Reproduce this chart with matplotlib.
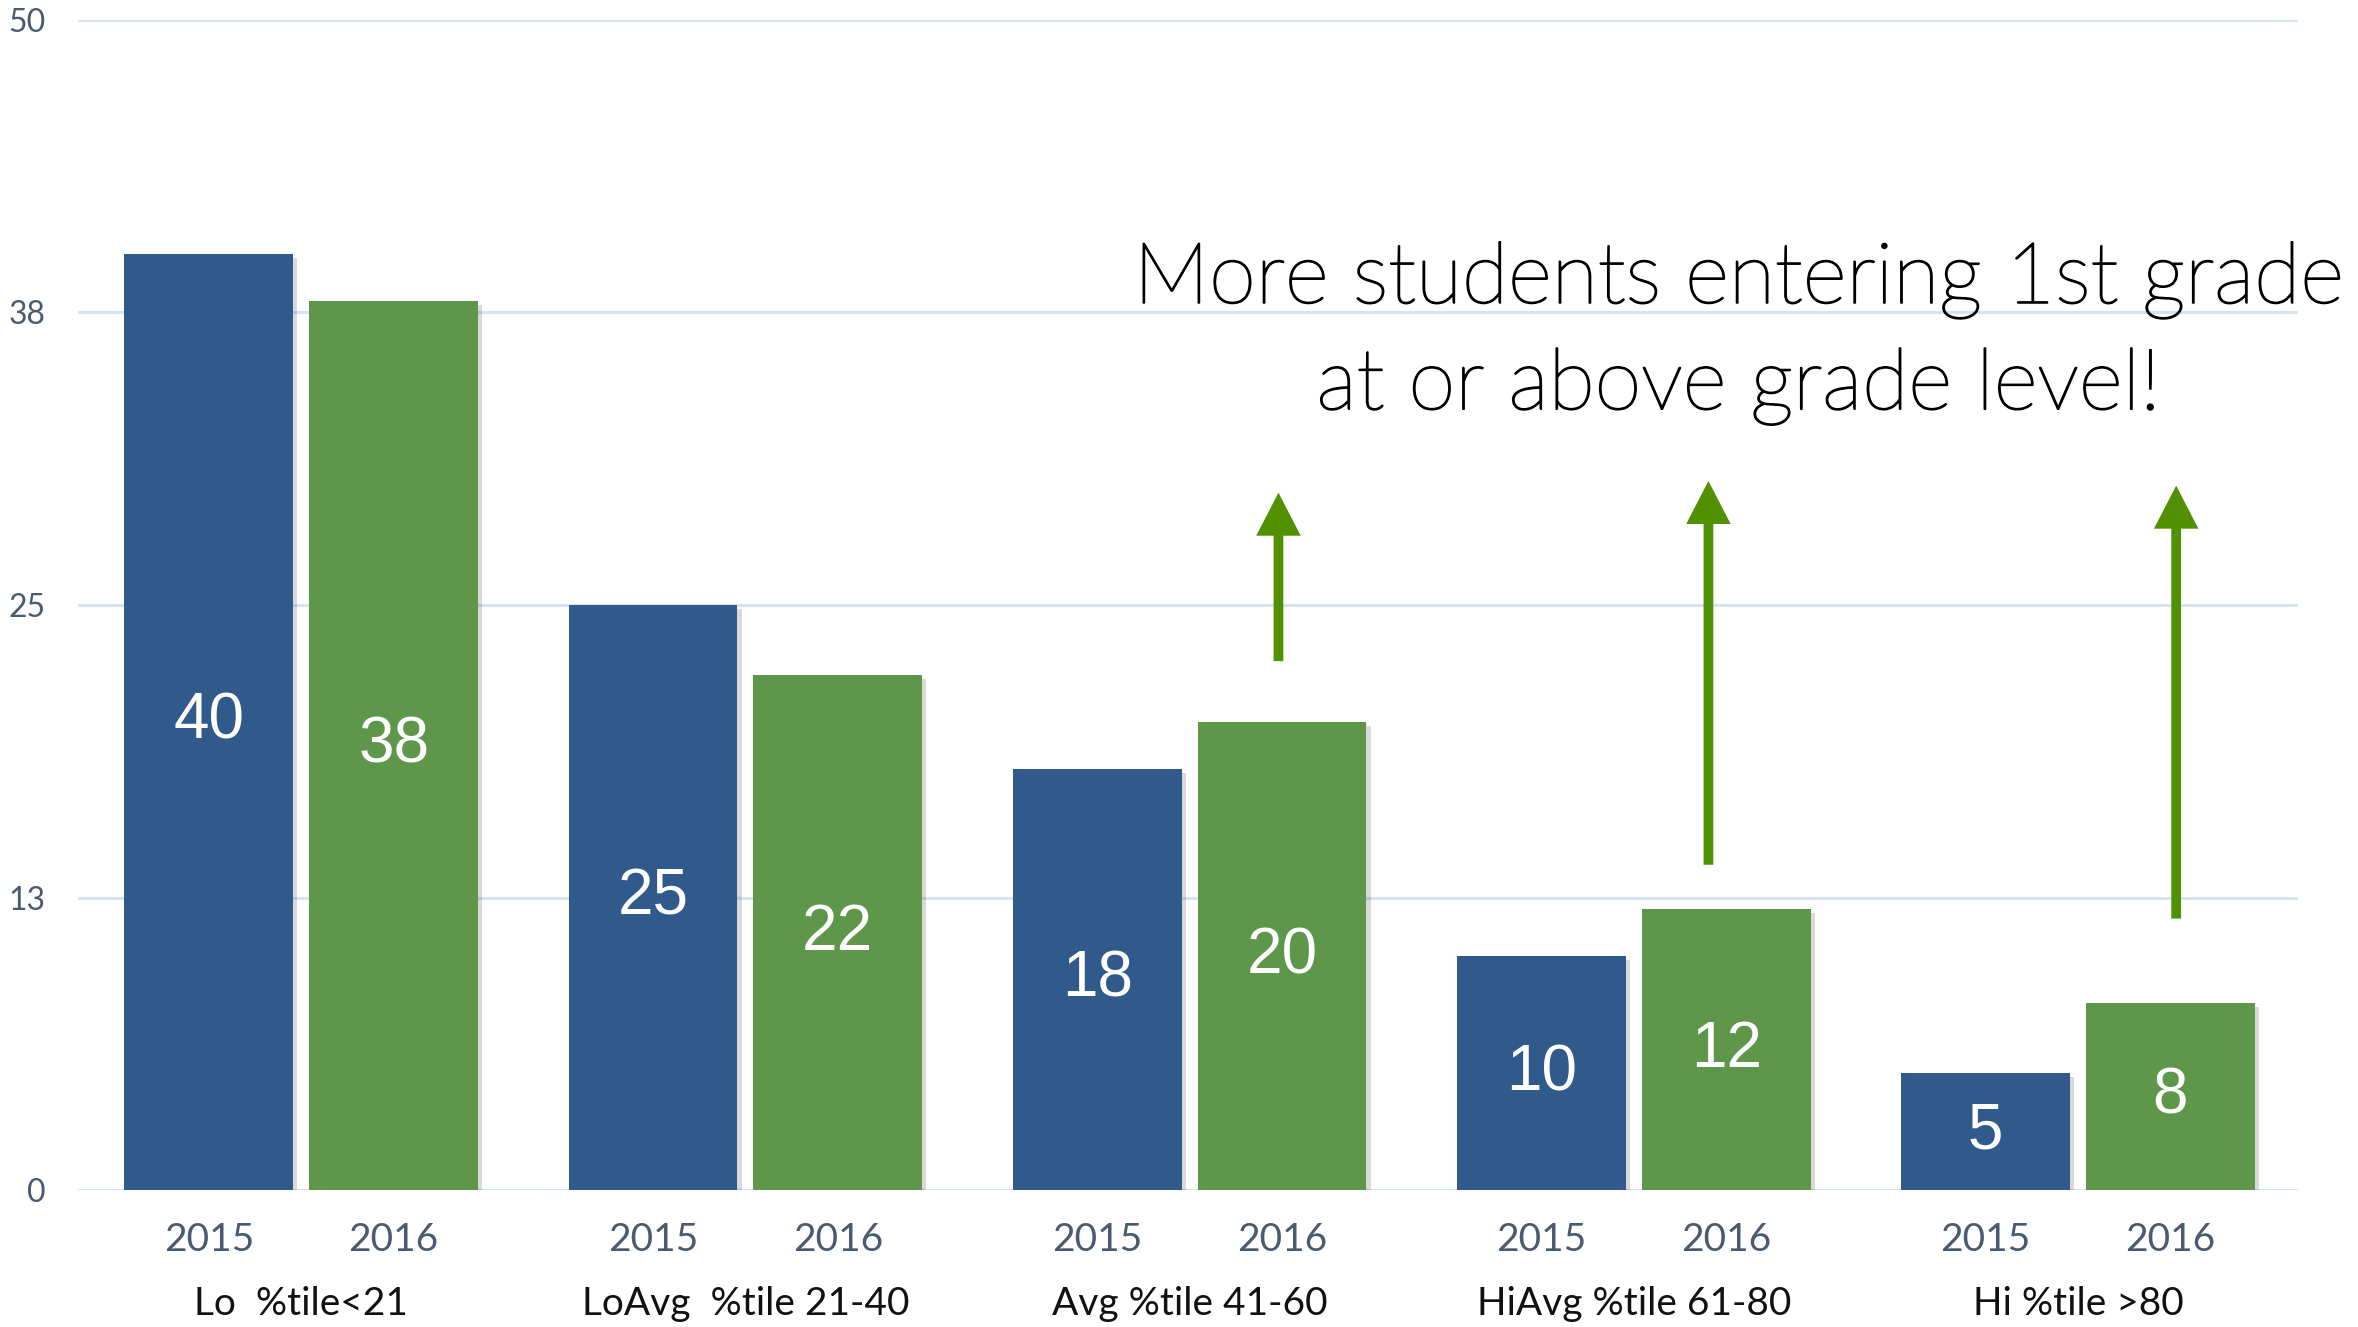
"""Bar chart: reading percentile groups, 2015 vs 2016."""

import matplotlib.pyplot as plt
import matplotlib.patheffects as pe
from matplotlib.patches import FancyArrowPatch
import numpy as np

categories = ["Lo  %tile<21", "LoAvg  %tile 21-40", "Avg %tile 41-60",
              "HiAvg %tile 61-80", "Hi %tile >80"]
years = ["2015", "2016"]
values_2015 = [40, 25, 18, 10, 5]
values_2016 = [38, 22, 20, 12, 8]
y_ticks = [0, 12.5, 25, 37.5, 50]
y_tick_labels = ["0", "13", "25", "38", "50"]

# arrows above the 2016 bars of the last three groups
arrow_x = [2.2, 3.168, 4.221]
arrow_tail = [22.6, 13.9, 11.6]
arrow_tip = [29.8, 30.3, 30.1]

note = "More students entering 1st grade\nat or above grade level!"

BLUE = "#2f5a8b"
GREEN = "#5e9749"
ARROW = "#519000"
GRID = "#d7e3f1"
TICK = "#4a5a70"

fig = plt.figure(figsize=(23.58, 13.27), dpi=100)
ax = fig.add_axes([0.033, 0.1032, 0.9415, 0.8818])

x = np.arange(len(categories))
width = 0.38
offset = 0.208
shadow = [pe.SimplePatchShadow(offset=(3, -3), alpha=0.15, shadow_rgbFace="k"), pe.Normal()]

bars_a = ax.bar(x - offset, values_2015, width, color=BLUE, zorder=3)
bars_b = ax.bar(x + offset, values_2016, width, color=GREEN, zorder=3)
for b in list(bars_a) + list(bars_b):
    b.set_path_effects(shadow)

for bars, vals in ((bars_a, values_2015), (bars_b, values_2016)):
    for b, v in zip(bars, vals):
        ax.text(b.get_x() + b.get_width() / 2, v / 2, str(v), ha="center", va="center",
                color="white", fontsize=46, family=["Liberation Sans", "DejaVu Sans"], zorder=4)

ax.set_xlim(-0.503, 4.495)
ax.set_ylim(0, 50)
ax.set_yticks(y_ticks)
ax.set_yticklabels(y_tick_labels, fontsize=23, color=TICK,
                   family=["Lato", "DejaVu Sans"])
ax.grid(axis="y", color=GRID, linewidth=2.2, zorder=0)
ax.tick_params(axis="y", length=0, pad=23)

year_pos = np.concatenate([x - offset, x + offset])
year_lab = [years[0]] * len(x) + [years[1]] * len(x)
ax.set_xticks(year_pos)
ax.set_xticklabels(year_lab, fontsize=28, color=TICK,
                   family=["Lato", "DejaVu Sans"])
ax.tick_params(axis="x", length=0, pad=23)

for xi, name in zip(x, categories):
    ax.annotate(name, xy=(xi, 0), xycoords=("data", "axes fraction"),
                xytext=(0, -82), textcoords="offset points", ha="center", va="center",
                fontsize=28, color="#111111",
                family=["Lato", "DejaVu Sans"], annotation_clip=False)

for spine in ax.spines.values():
    spine.set_visible(False)

for ax_x, y0, y1 in zip(arrow_x, arrow_tail, arrow_tip):
    arr = FancyArrowPatch((ax_x, y0), (ax_x, y1),
                          arrowstyle="simple,head_length=31,head_width=32,tail_width=7",
                          mutation_scale=1, color=ARROW, lw=0, shrinkA=0, shrinkB=0,
                          zorder=5)
    ax.add_patch(arr)

ax.text(3.236, 36.6, note, ha="center", va="center", fontsize=61, fontweight="light",
        color="black", family=["Lato", "DejaVu Sans"], linespacing=1.5, zorder=6,
        path_effects=[pe.withStroke(linewidth=1.3, foreground="black")])

fig.savefig("out.png", dpi=100, facecolor="white")
